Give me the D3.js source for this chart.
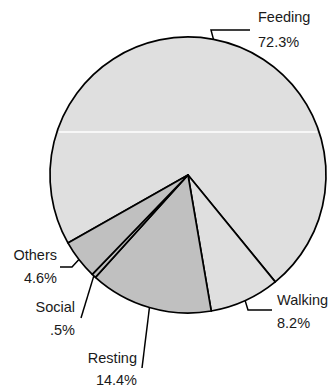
<!DOCTYPE html>
<html>
<head>
<meta charset="utf-8">
<script src="https://cdn.jsdelivr.net/npm/d3@7"></script>
<style>
  body { margin: 0; background: #fff; }
  svg { display: block; font-family: "Liberation Sans", Arial, sans-serif; }
</style>
</head>
<body>
<div id="chart"></div>
<script>
// data
var categories = ["Feeding", "Walking", "Resting", "Social", "Others"];
var percents = [72.3, 8.2, 14.4, 0.5, 4.6];
var pctLabels = ["72.3%", "8.2%", "14.4%", ".5%", "4.6%"];

var width = 331, height = 392;
var cx = 188, cy = 175, radius = 138;

var svg = d3.select("#chart").append("svg")
    .attr("width", width)
    .attr("height", height);

var g = svg.append("g")
    .attr("transform", "translate(" + cx + "," + cy + ")");

// colours per slice
var color = d3.scaleOrdinal()
    .domain(categories)
    .range(["#dfdfdf", "#dfdfdf", "#c0c0c0", "#c0c0c0", "#c0c0c0"]);

var startDeg = -119.5;
var pie = d3.pie()
    .sort(null)
    .value(function (d) { return d.value; })
    .startAngle(startDeg * Math.PI / 180)
    .endAngle((startDeg + 360) * Math.PI / 180);

var data = categories.map(function (c, i) {
    return {name: c, value: percents[i], label: pctLabels[i]};
});
var arcs = pie(data);

var arc = d3.arc().innerRadius(0).outerRadius(radius);

g.selectAll("path.slice")
    .data(arcs)
    .enter()
    .append("path")
    .attr("class", "slice")
    .attr("d", arc)
    .attr("fill", function (d) { return color(d.data.name); })
    .attr("stroke", "#000")
    .attr("stroke-width", 1.7)
    .attr("stroke-linejoin", "round");

// the thin white streak across the big slice
var streakY = 132 - cy;
var half = Math.sqrt(radius * radius - streakY * streakY) - 2;
g.append("line")
    .attr("x1", -half).attr("x2", half)
    .attr("y1", streakY).attr("y2", streakY)
    .attr("stroke", "#fff")
    .attr("stroke-width", 1.5);

// label layout (leader end points and text anchors, page coords)
var labelLayout = {
    Feeding: {elbow: [211, 30], end: [250, 30], tx: 258, ty: [22, 47], anchor: "start"},
    Walking: {elbow: [248, 310], end: [272, 310], tx: 277, ty: [305, 328], anchor: "start"},
    Resting: {elbow: null, end: [142, 368], tx: 137, ty: [363, 385], anchor: "end"},
    Social:  {elbow: null, end: [81, 318], tx: 75, ty: [312, 335], anchor: "end"},
    Others:  {elbow: [72, 267], end: [60, 267], tx: 57, ty: [260, 283], anchor: "end"}
};

var labels = svg.append("g");

arcs.forEach(function (d) {
    var lay = labelLayout[d.data.name];
    var mid = (d.startAngle + d.endAngle) / 2;
    var sx = cx + radius * Math.sin(mid);
    var sy = cy - radius * Math.cos(mid);
    var pts = [[sx, sy]];
    if (lay.elbow) pts.push(lay.elbow);
    pts.push(lay.end);

    labels.append("path")
        .attr("d", d3.line()(pts))
        .attr("fill", "none")
        .attr("stroke", "#000")
        .attr("stroke-width", 1.5);

    labels.append("text")
        .attr("x", lay.tx)
        .attr("y", lay.ty[0])
        .attr("text-anchor", lay.anchor)
        .style("font-size", "14.5px")
        .attr("fill", "#1a1a1a")
        .text(d.data.name);

    labels.append("text")
        .attr("x", lay.tx)
        .attr("y", lay.ty[1])
        .attr("text-anchor", lay.anchor)
        .style("font-size", "14.5px")
        .attr("fill", "#1a1a1a")
        .text(d.data.label);
});
</script>
</body>
</html>
